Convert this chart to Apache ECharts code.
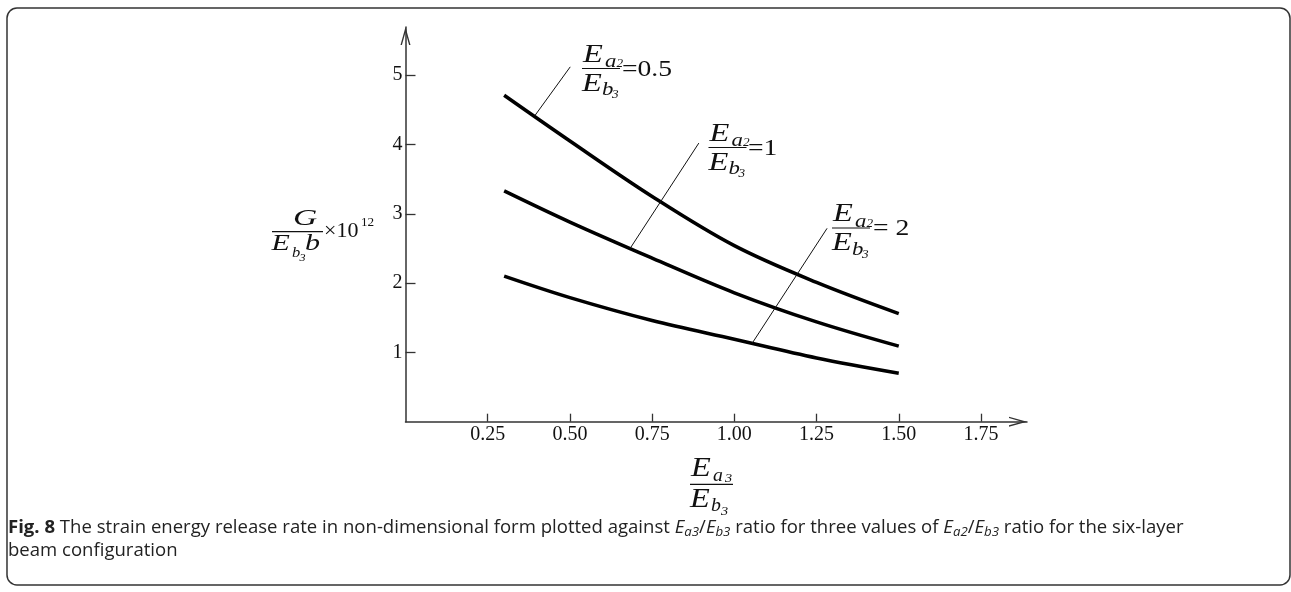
<!DOCTYPE html>
<html><head><meta charset="utf-8">
<script src="https://cdn.jsdelivr.net/npm/echarts@6/dist/echarts.min.js"></script>
<style>html,body{margin:0;padding:0;background:#fff}#c{width:1291px;height:592px}</style>
</head><body><div id="c"></div>
<script>
// ---- data ----
const xValues = [0.3, 0.5, 0.75, 1.0, 1.25, 1.5];
const seriesNames = ['Ea2/Eb3=0.5', 'Ea2/Eb3=1', 'Ea2/Eb3=2'];
const g05 = [4.71, 4.05, 3.25, 2.54, 2.01, 1.56];
const g1 = [3.33, 2.88, 2.36, 1.86, 1.44, 1.09];
const g2 = [2.10, 1.79, 1.46, 1.19, 0.92, 0.70];
const xTicks = [0.25, 0.5, 0.75, 1.0, 1.25, 1.5, 1.75];
const xTickLabels = ['0.25', '0.50', '0.75', '1.00', '1.25', '1.50', '1.75'];
const yTicks = [1, 2, 3, 4, 5];
const yTickLabels = ['1', '2', '3', '4', '5'];
// leader lines (data coords): from curve to label
const leader05 = [[0.394, 4.42], [0.501, 5.12]];
const leader1 = [[0.683, 2.50], [0.892, 4.02]];
const leader2 = [[1.054, 1.13], [1.282, 2.79]];

const INK = '#111';
const SERIF = 'Liberation Serif';
function lookup(ticks, labels, v) {
  for (let i = 0; i < ticks.length; i++) if (Math.abs(ticks[i] - v) < 1e-6) return labels[i];
  return '';
}
function pairs(ys) { return xValues.map((x, i) => [x, ys[i]]); }
function T(text, x, y, size, italic, sx) {
  return { type: 'text', x: x, y: y, scaleX: sx || 1, silent: true,
    style: { text: text, fontFamily: SERIF, fontSize: size, fontStyle: italic ? 'italic' : 'normal',
      fill: INK, align: 'left', verticalAlign: 'middle' } };
}
function L(x1, y1, x2, y2, w) {
  return { type: 'line', silent: true, shape: { x1: x1, y1: y1, x2: x2, y2: y2 }, style: { stroke: INK, lineWidth: w || 1.2 } };
}
// fraction label Ea2/Eb3 = rhs, origin = left end of fraction bar
function frac(ox, oy, rhs, rhsX) {
  const dx = ox - 583, dy = oy - 68.5;
  return [
    T('E', 583 + dx, 55 + dy, 26, true, 1.25),
    T('a', 605 + dx, 62 + dy, 19, true, 1.2),
    T('2', 616.5 + dx, 64 + dy, 12, true, 1.1),
    L(582 + dx, 68.5 + dy, 620 + dx, 68.5 + dy),
    T('E', 582 + dx, 84 + dy, 26, true, 1.25),
    T('b', 602 + dx, 90 + dy, 19, true, 1.2),
    T('3', 612 + dx, 95 + dy, 12, true, 1.1),
    T(rhs, rhsX, 69.5 + dy, 23, false, 1.2)
  ];
}
function leaderLine(seg) {
  return { silent: true, symbol: 'none', label: { show: false },
    lineStyle: { color: INK, width: 1, type: 'solid' },
    data: [[{ coord: seg[0] }, { coord: seg[1] }]] };
}
const arrowPath = 'path://M50,0 L100,180 L86,180 L50,52 L14,180 L0,180 Z';
const chart = echarts.init(document.getElementById('c'), null, { renderer: 'canvas' });
const capRich = {
  b: { fontWeight: 'bold', fontFamily: 'Open Sans', fontSize: 17.5, lineHeight: 22 },
  i: { fontStyle: 'italic', fontFamily: 'Open Sans', fontSize: 17.5, lineHeight: 22 },
  s: { fontStyle: 'italic', fontFamily: 'Open Sans', fontSize: 12.5, lineHeight: 15, verticalAlign: 'bottom' }
};
const graphics = [].concat(
  [{ type: 'rect', silent: true, shape: { x: 7, y: 8, width: 1283, height: 577, r: 10 },
     style: { fill: 'none', stroke: '#333', lineWidth: 1.5 } }],
  frac(583, 68.5, '=0.5', 622),
  frac(709.5, 147.5, '=1', 748),
  frac(833, 228, '= 2', 873),
  [
    T('G', 293, 219, 24, true, 1.4),
    L(272, 231.7, 323, 231.7),
    T('E', 271.5, 244, 24, true, 1.25),
    T('b', 292, 253, 15, true, 1.1),
    T('3', 299.5, 258, 11, true, 1.1),
    T('b', 305, 244, 24, true, 1.25),
    T('×10', 324, 232, 20, false, 1.1),
    T('12', 361, 223, 12, false, 1.1),
    T('E', 691, 469, 27, true, 1.2),
    T('a', 713, 476, 18, true, 1.1),
    T('3', 725, 479, 13, true, 1.1),
    L(690, 484.3, 733, 484.3),
    T('E', 690, 500, 27, true, 1.2),
    T('b', 711, 506, 18, true, 1.1),
    T('3', 721, 512, 13, true, 1.1)
  ],
  [{ type: 'text', x: 8, y: 528, scaleX: 1.06, silent: true,
     style: { text: '{b|Fig. 8} The strain energy release rate in non-dimensional form plotted against {i|E}{s|a3}/{i|E}{s|b3} ratio for three values of {i|E}{s|a2}/{i|E}{s|b3} ratio for the six-layer',
       fontFamily: 'Open Sans', fontSize: 17.5, fill: '#222', align: 'left', verticalAlign: 'middle', lineHeight: 22,
       rich: capRich } },
   { type: 'text', x: 8, y: 551, scaleX: 1.06, silent: true,
     style: { text: 'beam configuration', fontFamily: 'Open Sans', fontSize: 17.5, fill: '#222', align: 'left', verticalAlign: 'middle' } }]
);
function mkSeries(name, ys, leader) {
  return { name: name, type: 'line', data: pairs(ys), smooth: 0.35, showSymbol: false, symbol: 'none',
    lineStyle: { color: '#000', width: 3.5 }, silent: true, animation: false, markLine: leaderLine(leader) };
}
chart.setOption({
  animation: false,
  backgroundColor: '#fff',
  grid: { left: 405.5, right: 264, top: 27, bottom: 170.3, containLabel: false, outerBoundsMode: 'none' },
  xAxis: {
    type: 'value', min: 0, max: 1.89,
    axisLine: { show: true, onZero: false, symbol: ['none', arrowPath], symbolSize: [11, 18], symbolOffset: [0, -9],
      lineStyle: { color: '#333', width: 1.5 } },
    axisTick: { show: true, inside: true, length: 8, customValues: xTicks, lineStyle: { color: '#333', width: 1.3 } },
    axisLabel: { show: true, margin: 3, customValues: xTicks, fontFamily: SERIF, fontSize: 20, color: INK,
      formatter: function (v) { return lookup(xTicks, xTickLabels, v); } },
    splitLine: { show: false }
  },
  yAxis: {
    type: 'value', min: 0, max: 5.695,
    axisLine: { show: true, onZero: false, symbol: ['none', arrowPath], symbolSize: [11, 18], symbolOffset: [0, -9],
      lineStyle: { color: '#333', width: 1.5 } },
    axisTick: { show: true, inside: true, length: 10, customValues: yTicks, lineStyle: { color: '#333', width: 1.3 } },
    axisLabel: { show: true, margin: 3, customValues: yTicks, fontFamily: SERIF, fontSize: 20, color: INK,
      formatter: function (v) { return lookup(yTicks, yTickLabels, v); } },
    splitLine: { show: false }
  },
  series: [mkSeries(seriesNames[0], g05, leader05), mkSeries(seriesNames[1], g1, leader1), mkSeries(seriesNames[2], g2, leader2)],
  graphic: graphics
});
</script></body></html>
